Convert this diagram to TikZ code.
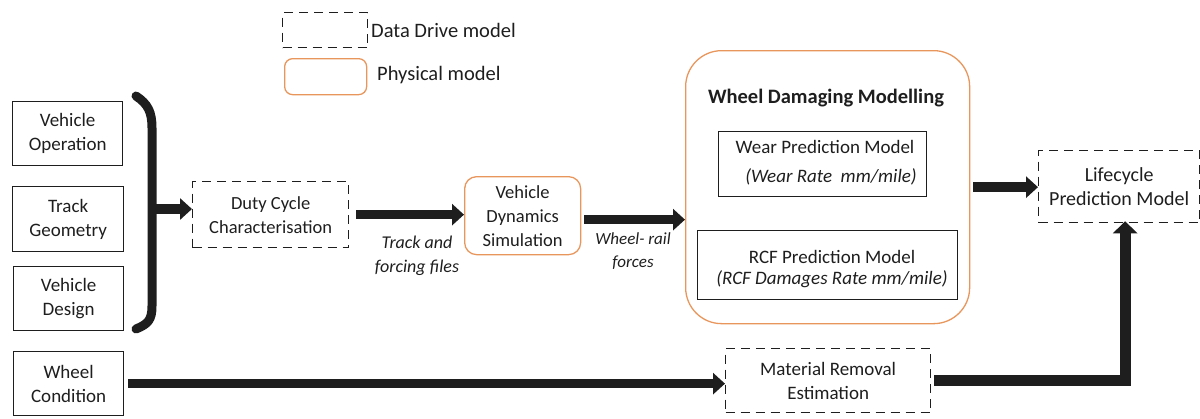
\documentclass[tikz,border=0pt]{standalone}
\usepackage{fontspec}
\setmainfont{Carlito}
\usetikzlibrary{arrows.meta}
\definecolor{ink}{RGB}{30,30,30}
\definecolor{phys}{RGB}{232,150,92}
\newcommand{\fs}[2]{\fontsize{#1}{#2}\selectfont}
\tikzset{
  txt/.style={font=\fs{19}{24}, text=ink, align=center, inner sep=0pt},
  plainbox/.style={txt, draw=ink, line width=1.3pt, anchor=north west},
  databox/.style={txt, draw=ink, line width=1.3pt, dash pattern=on 9pt off 6pt, anchor=north west},
  physbox/.style={txt, draw=phys, line width=1.3pt, anchor=north west},
  fat/.style={draw=ink, line width=9.5pt, -{Triangle[length=12pt,width=21pt]}},
  note/.style={font=\fs{18}{24}\itshape, text=ink, align=center, inner sep=0pt},
}
\begin{document}
\begin{tikzpicture}[x=1pt,y=-1pt]
\useasboundingbox (0,0) rectangle (1200,418);

% legend
\node[databox, minimum width=85pt, minimum height=35pt] (legdata) at (282,12) {};
\node[txt, font=\fs{20.5}{24}, anchor=west] (legdatatxt) at (371,30) {Data Drive model};
\node[physbox, rounded corners=8pt, minimum width=82pt, minimum height=36pt] (legphys) at (284,58) {};
\node[txt, font=\fs{20.5}{24}, anchor=west] (legphystxt) at (377,75) {Physical model};

% input boxes
\node[plainbox, minimum width=110pt, minimum height=64pt] (vo) at (12,101) {Vehicle\\Operation};
\node[plainbox, minimum width=111pt, minimum height=65pt] (tg) at (12,186) {Track\\Geometry};
\node[plainbox, minimum width=110pt, minimum height=64pt] (vd) at (13,266) {Vehicle\\Design};
\node[plainbox, minimum width=110pt, minimum height=64pt] (wc) at (13,351) {Wheel\\Condition};

% grouping bracket
\draw[ink, line width=9pt, line cap=round]
  (136,96) .. controls (148,104) and (152,112) .. (152,128)
  -- (152,306) .. controls (152,320) and (148,324) .. (136,329);
\coordinate (brk) at (148,209);

% process boxes
\node[databox, font=\fs{18.5}{24}, minimum width=156pt, minimum height=66pt] (duty) at (192,181) {Duty Cycle\\Characterisation};
\node[physbox, font=\fs{18.5}{24}, rounded corners=12pt, minimum width=116pt, minimum height=78pt] (vds) at (464,176) {Vehicle\\Dynamics\\Simulation};

% wheel damaging modelling block
\node[physbox, rounded corners=36pt, minimum width=284pt, minimum height=273pt] (wdm) at (685,50) {};
\node[txt, font=\fs{20.5}{24}\bfseries] (wdmtitle) at (826,98) {Wheel Damaging Modelling};
\node[plainbox, minimum width=208pt, minimum height=65pt] (wear) at (718,131) {};
\node[txt] (weartxt) at (825,147) {Wear Prediction Model};
\node[txt, font=\fs{19}{24}\itshape] (wearrate) at (831,177) {(Wear Rate~~mm/mile)};
\node[plainbox, minimum width=260pt, minimum height=69pt] (rcf) at (697,230) {};
\node[txt] (rcftxt) at (832,257) {RCF Prediction Model};
\node[txt, font=\fs{19}{24}\itshape] (rcfrate) at (832,279) {(RCF Damages Rate mm/mile)};

% outputs
\node[databox, font=\fs{20}{24}, minimum width=161pt, minimum height=72pt] (lc) at (1038,150) {Lifecycle\\Prediction Model};
\node[databox, minimum width=205pt, minimum height=64pt] (mre) at (725,348) {Material Removal\\Estimation};

% connectors
\draw[fat] (brk) -- (brk -| duty.west);
\draw[fat] (duty.east) ++(7,0) coordinate (d0) -- (d0 -| vds.west);
\draw[fat] ([xshift=3pt,yshift=-4pt]vds.east) coordinate (v0) -- (v0 -| wdm.west);
\draw[fat] ([xshift=3pt]wdm.east) coordinate (w0) -- (w0 -| lc.west);
\draw[fat] (wc.east) ++(4,0) coordinate (c0) -- (c0 -| mre.west);
\draw[draw=ink, line width=11pt, -{Triangle[length=12pt,width=24pt]}]
  ([xshift=3pt]mre.east) -| ([xshift=6pt,yshift=2pt]lc.south);

% connector labels
\node[note] (tff) at (417,256) {Track and\\forcing files};
\node[note, font=\fs{17}{23}\itshape] (wrf) at (633,251) {Wheel- rail\\forces};
\end{tikzpicture}
\end{document}
